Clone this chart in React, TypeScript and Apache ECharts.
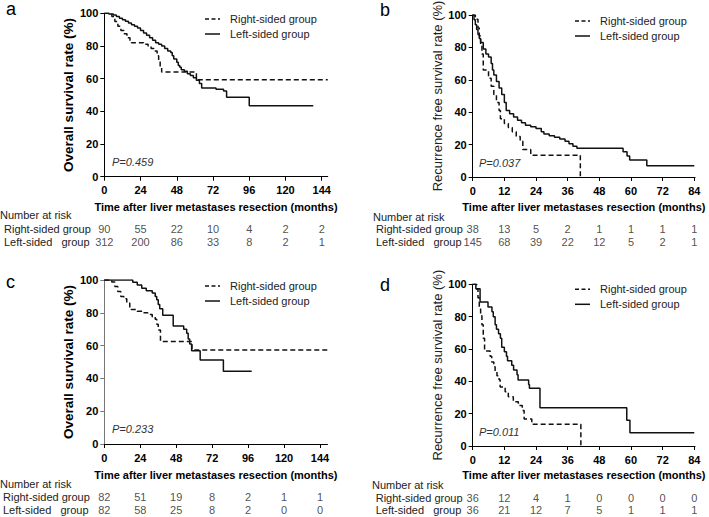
import React, { useEffect, useRef } from "react";
import * as echarts from "echarts";

// ---------- data ----------
const ticksOS = [0, 24, 48, 72, 96, 120, 144];
const ticksRFS = [0, 12, 24, 36, 48, 60, 72, 84];

const riskA_right = [90, 55, 22, 10, 4, 2, 2];
const riskA_left = [312, 200, 86, 33, 8, 2, 1];
const riskB_right = [38, 13, 5, 2, 1, 1, 1, 1];
const riskB_left = [145, 68, 39, 22, 12, 5, 2, 1];
const riskC_right = [82, 51, 19, 8, 2, 1, 1];
const riskC_left = [82, 58, 25, 8, 2, 0, 0];
const riskD_right = [36, 12, 4, 1, 0, 0, 0, 0];
const riskD_left = [36, 21, 12, 7, 5, 1, 1, 1];

const kmA_right = [[0, 100], [5, 98], [7, 95], [9, 92], [11, 89.5], [13, 87.5], [15, 85], [17, 83], [18, 82], [26, 81], [29, 80], [31, 78.5], [33, 77], [35, 74], [36, 71], [37, 67], [38, 64], [61, 59.3], [148, 59.3]];
const kmA_left = [[0, 100], [3, 99.5], [6, 99], [8, 98], [10, 97], [12, 96], [14, 95.2], [16, 94], [18, 93], [20, 92], [22, 91], [24, 89.5], [26, 88], [28, 86.5], [30, 85], [32, 83.5], [34, 82], [36, 81], [38, 80], [40, 78.5], [42, 77], [44, 76], [45, 74], [46, 72], [48, 70], [49, 68], [50, 67], [51, 65.5], [53, 64.5], [55, 63], [57, 62], [59, 60.5], [61, 59], [63, 57], [64.5, 54.3], [74, 53.5], [79, 52.5], [81, 48.6], [96, 43.4], [138.4, 43.4]];
const kmB_right = [[0, 100], [1, 97.4], [2, 92], [2.5, 87], [3, 81.5], [3.5, 76], [4, 66], [6, 61], [7, 56], [8, 51], [9, 46], [10, 41], [10.5, 36], [12, 33], [13.5, 30.5], [15, 28], [16.5, 25], [18, 22], [19, 17], [22, 13.5], [40.8, 0]];
const kmB_left = [[0, 100], [0.5, 97], [1, 94], [1.5, 91], [2, 88], [2.5, 85.5], [3, 83], [4, 79], [5, 76], [6, 74], [7, 70], [7.5, 66], [8, 63], [9, 59], [10, 55], [11, 51], [12, 46], [12.7, 41], [14, 39], [15.5, 37], [17, 35], [18.5, 33.5], [20, 32], [22, 31], [24, 30], [26, 28], [27, 26.5], [29, 25.5], [31, 24.5], [33, 23.5], [35, 22], [36.5, 20.5], [38, 19], [39.5, 17.8], [57, 15.6], [58.5, 13], [59.5, 10.5], [66, 7], [84, 7]];
const kmC_right = [[0, 100], [5, 98.8], [7, 96], [9, 93], [11, 90], [13, 88.5], [15, 86], [17, 83], [18, 82], [22, 81], [26, 80], [29, 79], [32, 77.5], [34, 76], [35, 73], [36, 69.5], [37.5, 62.5], [58.5, 57.3], [149, 57.3]];
const kmC_left = [[0, 100], [19, 98.6], [22, 97], [25, 95], [28, 93.5], [32, 92], [34, 90], [35, 88], [36, 85], [37, 82.5], [39, 78.5], [46, 72], [53, 70], [55, 67.5], [56, 64], [57, 61], [58.3, 56.8], [64, 51.2], [79.5, 44.3], [98.4, 44.3]];
const kmD_right = [[0, 100], [1.5, 97], [2, 91.7], [2.5, 86], [3, 80.5], [3.5, 75], [4, 66.7], [4.5, 58.8], [6.6, 55.5], [7.2, 52], [8, 49], [8.5, 46], [9.2, 43.5], [10, 41], [10.4, 36.5], [12.3, 33.6], [13.5, 30.5], [15.4, 27.4], [17.3, 25], [18.8, 22], [19.5, 16.7], [22.4, 13.4], [41, 0]];
const kmD_left = [[0, 100], [1.2, 97.2], [2.8, 89], [5.8, 86], [7.3, 83], [7.8, 80], [8.5, 75], [9, 72.2], [9.8, 69.4], [10.5, 66.6], [11, 61], [12, 58.3], [12.8, 55.5], [13.2, 52.7], [14.8, 50], [15.5, 47], [16.8, 44], [17.2, 40.8], [21.2, 38], [21.5, 35.7], [25.5, 23.7], [58.4, 16], [59.6, 8.2], [84, 8.2]];

const groupNames = ["Right-sided group", "Left-sided group"];
const pValues = ["P=0.459", "P=0.037", "P=0.233", "P=0.011"];
const panelLetters = ["a", "b", "c", "d"];
const yTitles = ["Overall survival rate (%)", "Recurrence free survival rate (%)", "Overall survival rate (%)", "Recurrence free survival rate (%)"];
const xTitle = "Time after liver metastases resection (months)";

const FONT = "Liberation Sans, Arial, Helvetica, sans-serif";

// ---------- layout ----------
const panels = [
  { ticks: ticksOS, xMax: 148, left: 104.3, top: 13.3, height: 163.4, pxPerUnit: 217.4 / 144, right: kmA_right, leftKm: kmA_left, riskR: riskA_right, riskL: riskA_left, riskTop: 229, riskH: 12.5, xGap: 25, yBold: true, yGap: 29, yColor: "#000", yAxisColor: "#000",
    labelX: 6, labelY: 9, legX: 205, legY: 19, pX: 112, pY: 162, narX: 0, narY: 215, rowX: 4 },
  { ticks: ticksRFS, xMax: 84.3, left: 472.7, top: 15, height: 162, pxPerUnit: 221.6 / 84, right: kmB_right, leftKm: kmB_left, riskR: riskB_right, riskL: riskB_left, riskTop: 229.3, riskH: 12.4, xGap: 24, yBold: false, yGap: 27, yColor: "#222", yAxisColor: "#000",
    labelX: 380, labelY: 10.4, legX: 575, legY: 21, pX: 479, pY: 163.3, narX: 373, narY: 217, rowX: 376 },
  { ticks: ticksOS, xMax: 149, left: 104.3, top: 280, height: 164, pxPerUnit: 215.7 / 144, right: kmC_right, leftKm: kmC_left, riskR: riskC_right, riskL: riskC_left, riskTop: 496.7, riskH: 13.3, xGap: 25.5, yBold: true, yGap: 29, yColor: "#000", yAxisColor: "#777",
    labelX: 6, labelY: 282, legX: 205, legY: 286, pX: 112, pY: 429, narX: 0, narY: 483.7, rowX: 3 },
  { ticks: ticksRFS, xMax: 84.3, left: 472.7, top: 284.3, height: 161.7, pxPerUnit: 221.6 / 84, right: kmD_right, leftKm: kmD_left, riskR: riskD_right, riskL: riskD_left, riskTop: 497.7, riskH: 12.3, xGap: 23.5, yBold: false, yGap: 27, yColor: "#222", yAxisColor: "#000",
    labelX: 380, labelY: 285.4, legX: 575, legY: 289.3, pX: 479, pY: 431.7, narX: 372, narY: 485, rowX: 375.7 },
];

function buildOption() {
  const grid: any[] = [];
  const xAxis: any[] = [];
  const yAxis: any[] = [];
  const series: any[] = [];
  const graphic: any[] = [];

  panels.forEach((p, i) => {
    const width = p.xMax * p.pxPerUnit;
    grid.push({ left: p.left, top: p.top, width, height: p.height, outerBoundsMode: "none", containLabel: false });
    xAxis.push({
      type: "value", gridIndex: i, min: 0, max: p.xMax, interval: p.ticks[1],
      axisLine: { show: true, lineStyle: { color: "#000", width: 1 } },
      axisTick: { show: true, length: 4, lineStyle: { color: "#000" }, customValues: p.ticks },
      axisLabel: { customValues: p.ticks, margin: 8, color: "#000", fontSize: 11, fontWeight: "bold", fontFamily: FONT },
      splitLine: { show: false },
      name: xTitle, nameLocation: "middle", nameGap: p.xGap,
      nameTextStyle: { fontSize: 11, fontWeight: "bold", color: "#000", fontFamily: FONT },
    });
    yAxis.push({
      type: "value", gridIndex: i, min: 0, max: 100, interval: 20,
      axisLine: { show: true, lineStyle: { color: p.yAxisColor, width: 1 } },
      axisTick: { show: true, length: 4, lineStyle: { color: p.yAxisColor } },
      axisLabel: { margin: 6, color: "#000", fontSize: 11, fontWeight: "bold", fontFamily: FONT },
      splitLine: { show: false },
      name: yTitles[i], nameLocation: "middle", nameGap: p.yGap, nameRotate: 90,
      nameTextStyle: { fontSize: p.yBold ? 13.5 : 13, fontWeight: p.yBold ? "bold" : "normal", color: p.yColor, fontFamily: FONT },
    });
    series.push({
      type: "line", name: groupNames[0], xAxisIndex: i, yAxisIndex: i, data: p.right, step: "end",
      symbol: "none", lineStyle: { color: "#111", width: 1.5, type: [5, 3] }, silent: true,
    });
    series.push({
      type: "line", name: groupNames[1], xAxisIndex: i, yAxisIndex: i, data: p.leftKm, step: "end",
      symbol: "none", lineStyle: { color: "#111", width: 1.5, type: "solid" }, silent: true,
    });

    graphic.push({ type: "line", shape: { x1: p.legX, y1: p.legY, x2: p.legX + 15, y2: p.legY }, style: { stroke: "#111", lineWidth: 1.5, lineDash: [4, 2.5] } });
    graphic.push({ type: "line", shape: { x1: p.legX, y1: p.legY + 15, x2: p.legX + 15, y2: p.legY + 15 }, style: { stroke: "#111", lineWidth: 1.5 } });
    graphic.push({ type: "text", x: p.legX + 25, y: p.legY, style: { text: groupNames[0], fontSize: 11, fontFamily: FONT, fill: "#222", verticalAlign: "middle" } });
    graphic.push({ type: "text", x: p.legX + 25, y: p.legY + 15, style: { text: groupNames[1], fontSize: 11, fontFamily: FONT, fill: "#222", verticalAlign: "middle" } });
    graphic.push({ type: "text", x: p.pX, y: p.pY, style: { text: pValues[i], fontSize: 11, fontStyle: "italic", fontFamily: FONT, fill: "#333", verticalAlign: "middle" } });
    graphic.push({ type: "text", x: p.labelX, y: p.labelY, style: { text: panelLetters[i], fontSize: 18, fontFamily: FONT, fill: "#000", verticalAlign: "middle" } });
    graphic.push({ type: "text", x: p.narX, y: p.narY, style: { text: "Number at risk", fontSize: 11, fontFamily: FONT, fill: "#222", verticalAlign: "middle" } });
    graphic.push({ type: "text", x: p.rowX, y: p.riskTop, style: { text: "Right-sided group", fontSize: 11, fontFamily: FONT, fill: "#222", verticalAlign: "middle" } });
    graphic.push({ type: "text", x: p.rowX, y: p.riskTop + p.riskH, style: { text: "Left-sided   group", fontSize: 11, fontFamily: FONT, fill: "#222", verticalAlign: "middle" } });
  });

  panels.forEach((p, i) => {
    const gi = 4 + i;
    const width = p.xMax * p.pxPerUnit;
    grid.push({ left: p.left, top: p.riskTop, width, height: p.riskH, outerBoundsMode: "none", containLabel: false });
    xAxis.push({ type: "value", gridIndex: gi, min: 0, max: p.xMax, show: false });
    yAxis.push({ type: "value", gridIndex: gi, min: 0, max: 1, show: false });
    const data = [
      ...p.ticks.map((t, j) => [t, 1, p.riskR[j]]),
      ...p.ticks.map((t, j) => [t, 0, p.riskL[j]]),
    ];
    series.push({
      type: "scatter", xAxisIndex: gi, yAxisIndex: gi, data, symbolSize: 1, silent: true,
      itemStyle: { color: "rgba(0,0,0,0)" },
      label: { show: true, position: "inside", formatter: (q: any) => String(q.value[2]), fontSize: 11, fontFamily: FONT, color: "#222" },
    });
  });

  return {
    animation: false,
    backgroundColor: "#fff",
    textStyle: { fontFamily: FONT },
    grid, xAxis, yAxis, series, graphic,
  };
}

export default function App() {
  const ref = useRef<HTMLDivElement>(null);
  useEffect(() => {
    if (!ref.current) return;
    const chart = echarts.init(ref.current, undefined, { renderer: "svg" });
    chart.setOption(buildOption() as any);
    return () => chart.dispose();
  }, []);
  return <div ref={ref} style={{ position: "absolute", left: 0, top: 0, width: 709, height: 517 }} />;
}
